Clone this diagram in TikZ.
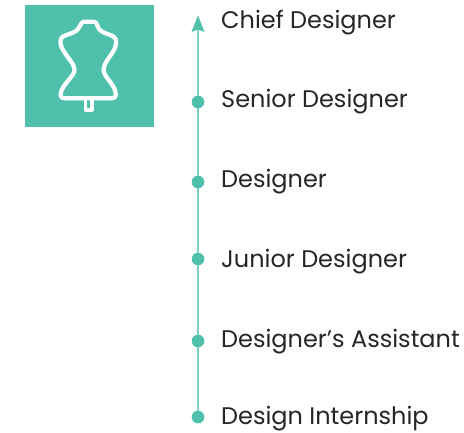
\documentclass[tikz,border=0pt]{standalone}
\usepackage{fontspec}
\setmainfont{Poppins}
\usetikzlibrary{arrows.meta}
\definecolor{teal1}{HTML}{4FC0AC}
\definecolor{teal2}{HTML}{7AD2C0}
\definecolor{ink}{HTML}{262626}
\tikzset{
  lab/.style={anchor=base west,inner sep=0pt,text=ink,font=\fontsize{24pt}{28pt}\selectfont},
  stop/.style={circle,fill=teal1,minimum size=12.5pt,inner sep=0pt},
  axisline/.style={draw=teal2,line width=2.8pt},
  icon/.style={draw=white,line width=4.2pt,line join=round}
}
\begin{document}
\begin{tikzpicture}[x=1pt,y=-1pt]
\useasboundingbox (0,0) rectangle (464,432);
\fill[teal1] (25,5) rectangle (153.5,127);
% mannequin
\draw[icon] (84,21.7) -- (94,21.7) .. controls (97.5,21.7) and (97,28.5) .. (101,31)
  .. controls (105,33.5) and (110,34.5) .. (113.5,36.5)
  .. controls (117.5,39) and (116.5,45) .. (114,50)
  .. controls (110,57) and (103.5,64) .. (103.5,70)
  .. controls (103.5,76) and (114,84) .. (115.5,92)
  .. controls (116.5,96) and (115,98.3) .. (112,98.3)
  -- (65,98.3)
  .. controls (61,98.3) and (60,96) .. (61,92)
  .. controls (63,84) and (74.5,76) .. (74.5,70)
  .. controls (74.5,64) and (67,57) .. (63,50)
  .. controls (60,45) and (59,39) .. (63,36.5)
  .. controls (67,34.5) and (72,33.5) .. (76,31)
  .. controls (80,28.5) and (80.5,21.7) .. (84,21.7) -- cycle;
\draw[icon,line width=3.2pt] (85.5,98.3) -- (85.5,110) -- (92,110) -- (92,98.3);
% timeline
\coordinate (top) at (198,20);
\node[stop] (s1) at (198,102) {};
\node[stop] (s2) at (198,182) {};
\node[stop] (s3) at (198,259) {};
\node[stop] (s4) at (198,341) {};
\node[stop] (s5) at (198,417) {};
\draw[axisline] (s5.center) -- (top);
\fill[teal1] (191.5,32) -- (198,15.5) -- (204.5,32) -- (198,29.5) -- cycle;
\foreach \n in {s1,s2,s3,s4,s5} \fill[teal1] (\n) circle (6.2);
\node[lab] (l0) at (221,28) {Chief Designer};
\node[lab] (l1) at (221,107.5) {Senior Designer};
\node[lab] (l2) at (221,187.5) {Designer};
\node[lab] (l3) at (221,267.5) {Junior Designer};
\node[lab] (l4) at (221,347) {Designer’s Assistant};
\node[lab] (l5) at (221,424.5) {Design Internship};
\end{tikzpicture}
\end{document}
